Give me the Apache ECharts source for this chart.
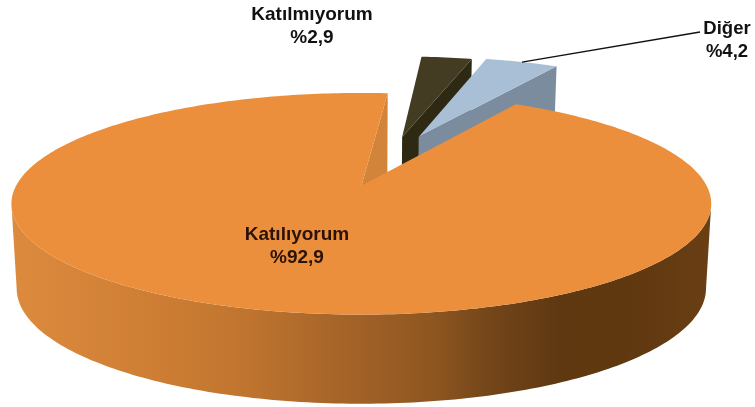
<!DOCTYPE html>
<html>
<head>
<meta charset="utf-8">
<style>
html, body { margin: 0; padding: 0; background: #fff; }
#chart { width: 755px; height: 407px; }
</style>
<script src="https://cdn.jsdelivr.net/npm/echarts@6/dist/echarts.min.js"></script>
</head>
<body>
<div id="chart"></div>
<script>
var categories = ['Katılıyorum', 'Katılmıyorum', 'Diğer'];
var values = [92.9, 2.9, 4.2];
var valueLabels = ['%92,9', '%2,9', '%4,2'];

// looks of the slices, same order as categories
var topColors = ['#eb8f3d', '#433c22', '#a9bfd6'];
var wallColors = ['#d2843a', '#2d2913', '#7b8c9e'];
var explode = [0.29, 0.215, 0.23];
var labelPos = [[297, 246], [312, 26], [727, 40]];
var labelSize = [19, 19, 18.5];
var leaderEnd = [700, 32];

// fake 3d: the pie is a unit circle on a plane seen in perspective
var startAngle = 30.6;
var pieCenter = [0.084, 0.278];
var view = { x: 363, y: 186, a: 345.4, b: 108, k: 0.162 };

function project(u, v) {
    var w = 1 + view.k * v;
    return [view.x + view.a * u / w, view.y - view.b * v / w];
}
function lower(p) {
    return [view.x + (p[0] - view.x) * 0.985, p[1] + 84 + (p[1] - view.y) * 0.04];
}
function dir(deg) {
    var r = deg * Math.PI / 180;
    return [Math.sin(r), Math.cos(r)];
}

function sliceAngles() {
    var total = values.reduce(function (a, b) { return a + b; }, 0);
    var from = startAngle;
    return values.map(function (val) {
        var to = from + val / total * 360;
        var item = { from: from, to: to, mid: (from + to) / 2 };
        from = to;
        return item;
    });
}

var angles = sliceAngles();

function renderSlice(params) {
    var i = params.dataIndex;
    var a = angles[i];
    var d = dir(a.mid);
    var o = [pieCenter[0] + explode[i] * d[0], pieCenter[1] + explode[i] * d[1]];
    var apex = project(o[0], o[1]);
    var rimAt = function (deg) {
        var e = dir(deg);
        return project(o[0] + e[0], o[1] + e[1]);
    };
    var rim = [];
    for (var t = a.from; t < a.to; t += 1) rim.push(rimAt(t));
    rim.push(rimAt(a.to));

    var z = i === 0 ? 30 : (i === 1 ? 10 : 20);
    var children = [];

    if (i === 0) {
        // outer wall of the big slice, only the front arc between the two side extremes
        var right = 0, left = 0;
        rim.forEach(function (p, n) {
            if (p[0] > rim[right][0]) right = n;
            if (p[0] < rim[left][0]) left = n;
        });
        var front = rim.slice(right, left + 1);
        children.push({
            type: 'polygon',
            z2: z,
            shape: { points: front.concat(front.map(lower).reverse()) },
            style: {
                fill: new echarts.graphic.LinearGradient(12, 0, 712, 0, [
                    { offset: 0, color: '#dc8a3e' },
                    { offset: 0.19, color: '#cf7f34' },
                    { offset: 0.33, color: '#c0752f' },
                    { offset: 0.47, color: '#a66429' },
                    { offset: 0.6, color: '#8e5620' },
                    { offset: 0.68, color: '#74461a' },
                    { offset: 0.78, color: '#5f3811' },
                    { offset: 0.9, color: '#613810' },
                    { offset: 1, color: '#6a3f14' }
                ], true)
            }
        });
        // inner wall at the end of the slice
        var endRim = rim[rim.length - 1];
        children.push({
            type: 'polygon',
            z2: z + 1,
            shape: { points: [apex, endRim, lower(endRim), lower(apex)] },
            style: { fill: wallColors[i] }
        });
    } else {
        // cut wall on the right of the small slices
        var edge = rim[rim.length - 1];
        children.push({
            type: 'polygon',
            z2: z,
            shape: { points: [apex, edge, lower(edge), lower(apex)] },
            style: { fill: wallColors[i] }
        });
    }

    children.push({
        type: 'polygon',
        z2: z + 2,
        shape: { points: [apex].concat(rim) },
        style: { fill: topColors[i] }
    });

    // labels
    var color = i === 0 ? '#2a1206' : '#111';
    children.push({
        type: 'text',
        z2: 50,
        x: labelPos[i][0],
        y: labelPos[i][1],
        style: {
            text: categories[i] + '\n' + valueLabels[i],
            fill: color,
            font: 'bold ' + labelSize[i] + 'px "Liberation Sans", Arial, sans-serif',
            lineHeight: 23,
            align: 'center',
            verticalAlign: 'middle'
        }
    });
    if (i === 2) {
        var anchor = rimAt(a.mid);
        children.push({
            type: 'polyline',
            z2: 40,
            shape: { points: [anchor, leaderEnd] },
            style: { stroke: '#111', lineWidth: 1.3, fill: null }
        });
    }
    return { type: 'group', children: children };
}

var myChart = echarts.init(document.getElementById('chart'));
myChart.setOption({
    animation: false,
    backgroundColor: '#fff',
    series: [{
        type: 'custom',
        coordinateSystem: 'none',
        silent: true,
        clip: false,
        data: categories.map(function (name, i) { return { name: name, value: values[i] }; }),
        renderItem: renderSlice
    }]
});
</script>
</body>
</html>
